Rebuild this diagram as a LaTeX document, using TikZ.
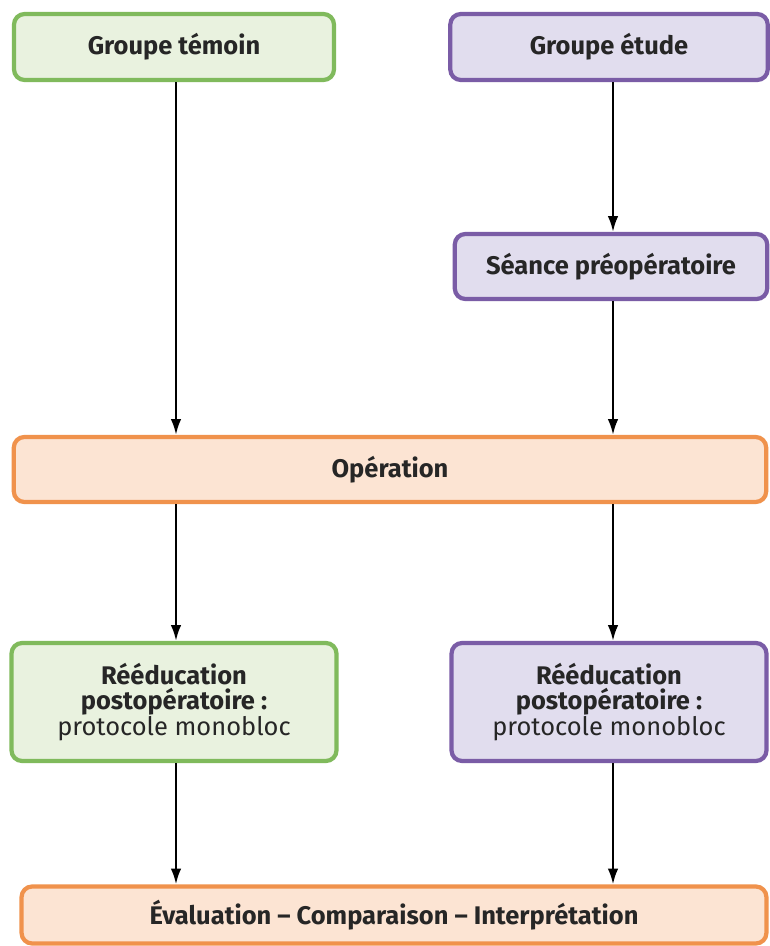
\documentclass[tikz,border=0pt]{standalone}
\usepackage{fontspec}
\setmainfont{Fira Sans}
\usepackage{xcolor}
\usetikzlibrary{arrows.meta,positioning,calc}

\definecolor{temoinline}{HTML}{80BA5C}
\definecolor{temoinfill}{HTML}{E9F2DF}
\definecolor{etudeline}{HTML}{7A5CA6}
\definecolor{etudefill}{HTML}{E1DDEE}
\definecolor{operline}{HTML}{F0924C}
\definecolor{operfill}{HTML}{FCE4D3}

\tikzset{
    box/.style={rounded corners=6pt, line width=2.4pt, align=center,
        font=\fontsize{14.5}{14.3}\selectfont\bfseries, text=black!85},
    temoinbox/.style={box, draw=temoinline, fill=temoinfill},
    etudebox/.style={box, draw=etudeline, fill=etudefill},
    operbox/.style={box, draw=operline, fill=operfill},
    flow/.style={-{Latex[length=9pt,width=6pt]}, line width=1.3pt, black}
}

\begin{document}
\begin{tikzpicture}[x=0.02cm,y=-0.02cm]
    \useasboundingbox[fill=white] (0,0) rectangle (769,946);

    % Columns of the two groups
    \coordinate (colL) at (176,0);
    \coordinate (colR) at (613,0);

    % Top row
    \node[temoinbox, minimum width=6.4cm, minimum height=1.32cm] (temoin) at (174,47) {Groupe témoin};
    \node[etudebox, minimum width=6.35cm, minimum height=1.32cm] (etude) at (609,47) {Groupe étude};

    % Preoperative session (study group only)
    \node[etudebox, minimum width=6.25cm, minimum height=1.3cm] (seance) at (611,266.5) {Séance préopératoire};

    % Operation
    \node[operbox, minimum width=15.05cm, minimum height=1.3cm] (oper) at (390,469.5) {Opération};

    % Rehabilitation
    \node[temoinbox, minimum width=6.5cm, minimum height=2.36cm] (reedL) at (174,702)
        {Rééducation\\postopératoire :\\\mdseries protocole monobloc};
    \node[etudebox, minimum width=6.3cm, minimum height=2.36cm] (reedR) at (609,702)
        {Rééducation\\postopératoire :\\\mdseries protocole monobloc};

    % Evaluation
    \node[operbox, minimum width=14.9cm, minimum height=1.14cm] (eval) at (394,915)
        {Évaluation – Comparaison – Interprétation};

    % Arrows
    \draw[flow] (temoin.south -| colL) -- (oper.north -| colL);
    \draw[flow] (etude.south -| colR) -- (seance.north -| colR);
    \draw[flow] (seance.south -| colR) -- (oper.north -| colR);
    \draw[flow] (oper.south -| colL) -- (reedL.north -| colL);
    \draw[flow] (oper.south -| colR) -- (reedR.north -| colR);
    \draw[flow] (reedL.south -| colL) -- (eval.north -| colL);
    \draw[flow] (reedR.south -| colR) -- (eval.north -| colR);
\end{tikzpicture}
\end{document}
